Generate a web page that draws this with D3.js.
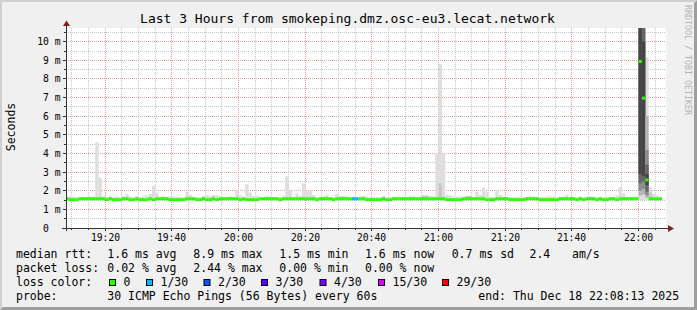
<!DOCTYPE html>
<html>
<head>
<meta charset="utf-8">
<script src="https://cdn.jsdelivr.net/npm/d3@7"></script>
<style>
html, body { margin: 0; padding: 0; background: #fff; }
svg { display: block; }
text { font-family: "DejaVu Sans Mono", monospace; fill: #000; white-space: pre; }
</style>
</head>
<body>
<svg id="chart"></svg>
<script>
const WIDTH = 697;
const HEIGHT = 310;
const PLOT = { left: 66, right: 666, top: 28, bottom: 228 };

const title = "Last 3 Hours from smokeping.dmz.osc-eu3.lecat.network";
const startTime = new Date(2025, 11, 18, 19, 8, 13);
const endTime = new Date(2025, 11, 18, 22, 8, 13);
const firstSlot = new Date(2025, 11, 18, 19, 8, 0); // one slot per minute

// median rtt (ms) per minute, 19:08 .. 22:06
const medianRtt = [
  1.57, 1.52, 1.52, 1.52, 1.57, 1.57, 1.57, 1.57, 1.57, 1.57, 1.57, 1.57, 1.52, 1.57, 1.52, 1.52, 1.52, 1.57, 1.57, 1.52,
  1.52, 1.57, 1.52, 1.52, 1.52, 1.57, 1.52, 1.57, 1.57, 1.57, 1.57, 1.52, 1.52, 1.52, 1.52, 1.52, 1.57, 1.57, 1.57, 1.52,
  1.52, 1.57, 1.52, 1.52, 1.57, 1.52, 1.57, 1.57, 1.57, 1.57, 1.57, 1.57, 1.52, 1.57, 1.52, 1.52, 1.52, 1.52, 1.57, 1.57,
  1.57, 1.57, 1.57, 1.57, 1.52, 1.57, 1.57, 1.57, 1.57, 1.57, 1.57, 1.57, 1.57, 1.57, 1.57, 1.52, 1.57, 1.57, 1.57, 1.57,
  1.52, 1.57, 1.57, 1.57, 1.57, 1.57, 1.57, 1.57, 1.57, 1.57, 1.52, 1.52, 1.52, 1.52, 1.52, 1.57, 1.52, 1.52, 1.57, 1.57,
  1.57, 1.57, 1.57, 1.57, 1.57, 1.57, 1.57, 1.57, 1.57, 1.57, 1.57, 1.57, 1.57, 1.57, 1.52, 1.52, 1.52, 1.52, 1.52, 1.57,
  1.57, 1.57, 1.57, 1.57, 1.57, 1.57, 1.52, 1.52, 1.52, 1.57, 1.57, 1.57, 1.57, 1.52, 1.52, 1.52, 1.52, 1.52, 1.57, 1.57,
  1.57, 1.57, 1.52, 1.52, 1.52, 1.52, 1.52, 1.52, 1.57, 1.57, 1.57, 1.57, 1.57, 1.52, 1.57, 1.52, 1.57, 1.57, 1.57, 1.52,
  1.57, 1.52, 1.52, 1.57, 1.57, 1.52, 1.57, 1.57, 1.57, 1.57, 1.57, 1.57, 8.94, 6.97, 2.58, 1.57, 1.57, 1.57, 1.57
];

// highest ping (ms) per minute - outer smoke
const smokeMax = [
  1.66, 1.72, 1.68, 1.66, 1.66, 1.68, 1.66, 1.68, 1.66, 4.6, 2.7, 1.68, 1.66, 1.7, 1.66, 1.7, 1.66, 1.7, 1.83, 1.7,
  1.66, 1.7, 1.66, 1.72, 1.75, 1.83, 2.27, 1.9, 1.66, 1.7, 1.66, 1.7, 1.7, 1.66, 1.66, 1.66, 1.95, 1.78, 1.66, 1.68,
  1.66, 1.72, 1.77, 1.72, 1.77, 1.77, 1.7, 1.66, 1.66, 1.7, 1.66, 2.05, 1.75, 1.66, 2.35, 1.9, 1.72, 1.72, 1.66, 1.66,
  1.72, 1.7, 1.66, 1.66, 1.66, 1.7, 2.78, 2.05, 1.66, 1.85, 1.72, 2.4, 2.0, 2.0, 1.77, 1.66, 1.66, 1.7, 1.77, 1.66,
  1.66, 1.83, 1.72, 1.72, 1.7, 1.66, 1.66, 1.66, 1.68, 1.72, 1.7, 1.66, 1.66, 1.66, 1.66, 1.73, 1.68, 1.66, 1.66, 1.66,
  1.66, 1.68, 1.66, 1.7, 1.7, 1.66, 1.68, 1.77, 1.77, 1.72, 1.68, 4.0, 8.8, 4.0, 1.77, 1.75, 1.68, 1.7, 1.7, 1.66,
  1.7, 1.72, 1.66, 1.95, 1.78, 2.17, 1.95, 1.68, 1.66, 2.04, 1.78, 1.66, 1.66, 1.66, 1.66, 1.66, 1.66, 1.66, 1.66, 1.66,
  1.66, 1.66, 1.66, 1.66, 1.7, 1.7, 1.7, 1.66, 1.66, 1.66, 1.78, 1.66, 1.66, 1.66, 1.7, 1.66, 1.66, 1.7, 1.68, 1.66,
  1.66, 1.66, 1.68, 1.66, 1.66, 1.75, 2.22, 1.85, 1.68, 1.66, 1.66, 1.68, 30, 26, 9.15, 2.2, 1.85, 1.75, 1.68
];
const smokeFloor = 1.5;

// minutes where the inner pings spread a bit
const innerSlots = [107, 108, 112, 120, 121, 175];
const innerMax = [1.72, 1.72, 2.4, 1.72, 1.72, 1.9];

// ping quantiles (0%, 10% .. 100%) for the 22:00 burst
const burstSlots = [172, 173, 174];
const burstPings = [
  [1.6, 1.75, 2.0, 2.4, 2.9, 8.94, 12, 15, 18, 22, 30],
  [1.6, 1.8, 2.1, 2.5, 2.8, 6.97, 10, 13, 16, 20, 26],
  [1.55, 1.62, 1.75, 1.95, 2.3, 2.58, 2.9, 3.4, 4.2, 6.0, 9.15]
];
const smokeShades = ["#dedede", "#b4b4b4", "#8c8c8c", "#666666", "#454545"];

// lost pings per minute (out of 30)
const lossSlots = [86, 87];
const lossCount = [1, 1];

const lossLabels = ["0", "1/30", "2/30", "3/30", "4/30", "15/30", "29/30"];
const lossSteps = [0, 1, 2, 3, 4, 15, 29];
const lossColors = ["#26ff00", "#00b8ff", "#0059ff", "#5e00ff", "#7e00ff", "#dd00ff", "#ff0000"];

const yTickValues = [0, 1, 2, 3, 4, 5, 6, 7, 8, 9, 10];
const yTickLabels = ["0  ", "1 m", "2 m", "3 m", "4 m", "5 m", "6 m", "7 m", "8 m", "9 m", "10 m"];
const xTickLabels = ["19:20", "19:40", "20:00", "20:20", "20:40", "21:00", "21:20", "21:40", "22:00"];

const rttLegend = ["median rtt:", "1.6 ms avg", "8.9 ms max", "1.5 ms min", "1.6 ms now", "0.7 ms sd", "2.4", "am/s"];
const lossLegend = ["packet loss:", "0.02 % avg", "2.44 % max", "0.00 % min", "0.00 % now"];
const probeText = "30 ICMP Echo Pings (56 Bytes) every 60s";
const endText = "end: Thu Dec 18 22:08:13 2025";

const svg = d3.select("#chart").attr("width", WIDTH).attr("height", HEIGHT);

// frame
svg.append("rect").attr("width", WIDTH).attr("height", HEIGHT).attr("fill", "#f0f0f0");
svg.append("path").attr("d", "M0,0H697L695,2H2V308L0,310Z").attr("fill", "#cfcfcf");
svg.append("path").attr("d", "M697,0V310H0L3,307H694V3Z").attr("fill", "#9e9e9e");

const x = d3.scaleTime().domain([startTime, endTime]).range([PLOT.left, PLOT.right]);
const y = d3.scaleLinear().domain([0, 10.735]).range([PLOT.bottom, PLOT.top]);

svg.append("rect")
  .attr("x", PLOT.left).attr("y", PLOT.top)
  .attr("width", PLOT.right - PLOT.left).attr("height", PLOT.bottom - PLOT.top)
  .attr("fill", "#ffffff");

svg.append("clipPath").attr("id", "plotClip")
  .append("rect")
  .attr("x", PLOT.left + 1).attr("y", PLOT.top)
  .attr("width", PLOT.right - PLOT.left - 1).attr("height", PLOT.bottom - PLOT.top);

const crisp = v => Math.floor(v) + 0.5;

// grid
const gridGroup = svg.append("g");
const minorTimes = d3.timeMinute.every(5).range(startTime, endTime);
gridGroup.selectAll("line.vgrid")
  .data(minorTimes)
  .enter().append("line")
  .attr("x1", d => crisp(x(d))).attr("x2", d => crisp(x(d)))
  .attr("y1", PLOT.top).attr("y2", PLOT.bottom)
  .attr("stroke", d => d.getMinutes() % 20 === 0 ? "#eb9c9c" : "#c6c6c6")
  .attr("stroke-dasharray", "1,1");
const yMinor = d3.range(1, 22).map(k => k / 2);
gridGroup.selectAll("line.hgrid")
  .data(yMinor)
  .enter().append("line")
  .attr("x1", PLOT.left).attr("x2", PLOT.right)
  .attr("y1", d => crisp(y(d))).attr("y2", d => crisp(y(d)))
  .attr("stroke", d => Number.isInteger(d) ? "#eb9c9c" : "#c6c6c6")
  .attr("stroke-dasharray", "1,1");

// data
const dataGroup = svg.append("g").attr("clip-path", "url(#plotClip)");
const slotStart = i => d3.timeMinute.offset(firstSlot, i);
const slotX = i => x(slotStart(i));
const slotW = i => x(slotStart(i + 1)) - x(slotStart(i));

dataGroup.selectAll("rect.smoke")
  .data(smokeMax)
  .enter().append("rect")
  .attr("x", (d, i) => slotX(i)).attr("width", (d, i) => slotW(i))
  .attr("y", d => y(d)).attr("height", d => y(smokeFloor) - y(d))
  .attr("fill", smokeShades[0]);

dataGroup.selectAll("rect.inner")
  .data(innerSlots)
  .enter().append("rect")
  .attr("x", d => slotX(d)).attr("width", d => slotW(d))
  .attr("y", (d, k) => y(innerMax[k])).attr("height", (d, k) => y(smokeFloor) - y(innerMax[k]))
  .attr("fill", "#c8c8c8");

burstSlots.forEach((slot, k) => {
  const q = burstPings[k];
  const layers = d3.range(1, 5).map(j => ({ lo: q[j], hi: q[q.length - 1 - j], shade: smokeShades[j] }));
  dataGroup.selectAll(null)
    .data(layers)
    .enter().append("rect")
    .attr("x", slotX(slot)).attr("width", slotW(slot))
    .attr("y", d => y(d.hi)).attr("height", d => y(d.lo) - y(d.hi))
    .attr("fill", d => d.shade);
});

const lossOf = i => {
  const k = lossSlots.indexOf(i);
  return k < 0 ? 0 : lossCount[k];
};
const lossColor = n => {
  let c = lossColors[0];
  lossSteps.forEach((s, k) => { if (n >= s) c = lossColors[k]; });
  return c;
};
dataGroup.selectAll("rect.median")
  .data(medianRtt)
  .enter().append("rect")
  .attr("x", (d, i) => slotX(i)).attr("width", (d, i) => slotW(i))
  .attr("y", d => y(d) - 1.5).attr("height", 3)
  .attr("fill", (d, i) => lossColor(lossOf(i)));

// axes
const axisColor = "#333333";
const arrowColor = "#7f1f1f";
const xAxis = svg.append("g").attr("transform", `translate(0,${PLOT.bottom})`);
xAxis.selectAll("line.minor")
  .data(minorTimes)
  .enter().append("line")
  .attr("x1", d => crisp(x(d))).attr("x2", d => crisp(x(d)))
  .attr("y1", 0).attr("y2", d => d.getMinutes() % 20 === 0 ? 3 : 2)
  .attr("stroke", axisColor);
const parseHM = d3.timeParse("%H:%M");
const majorTimes = xTickLabels.map(s => {
  const t = parseHM(s);
  return new Date(2025, 11, 18, t.getHours(), t.getMinutes());
});
xAxis.selectAll("text")
  .data(majorTimes)
  .enter().append("text")
  .attr("x", d => crisp(x(d))).attr("y", 13)
  .attr("text-anchor", "middle")
  .attr("font-size", "9.7px")
  .text((d, i) => xTickLabels[i]);
xAxis.append("line")
  .attr("x1", 62).attr("x2", 668).attr("y1", 0.5).attr("y2", 0.5)
  .attr("stroke", axisColor);
xAxis.append("path").attr("d", "M668,-3L674,0.5L668,4Z").attr("fill", arrowColor);

const yAxis = svg.append("g").attr("transform", `translate(${PLOT.left},0)`);
yAxis.selectAll("line.tick")
  .data(yMinor)
  .enter().append("line")
  .attr("x1", d => Number.isInteger(d) ? -3 : -2).attr("x2", 0)
  .attr("y1", d => crisp(y(d))).attr("y2", d => crisp(y(d)))
  .attr("stroke", axisColor);
yAxis.selectAll("text")
  .data(yTickValues)
  .enter().append("text")
  .attr("x", -5.5).attr("y", d => crisp(y(d)))
  .attr("dy", "0.36em")
  .attr("text-anchor", "end")
  .attr("font-size", "9.7px")
  .text((d, i) => yTickLabels[i]);
yAxis.append("line")
  .attr("x1", 0.5).attr("x2", 0.5).attr("y1", 231).attr("y2", 26)
  .attr("stroke", axisColor);
yAxis.append("path").attr("d", "M-3,26L0.5,20.5L4,26Z").attr("fill", arrowColor);

// titles
svg.append("text")
  .attr("x", 347.5).attr("y", 23)
  .attr("text-anchor", "middle")
  .attr("font-size", "13px")
  .text(title);
svg.append("text")
  .attr("transform", "translate(15,127) rotate(-90)")
  .attr("text-anchor", "middle")
  .attr("font-size", "11.5px")
  .text("Seconds");
svg.append("text")
  .attr("transform", "translate(685,5) rotate(90)")
  .attr("font-size", "8.3px")
  .style("fill", "#b4b4b4")
  .text("RRDTOOL / TOBI OETIKER");

// legend
const legend = svg.append("g").attr("font-size", "11.5px");
const rttX = [16, 107.3, 193.3, 279.3, 365, 451.7, 529.5, 572];
legend.selectAll("text.rtt")
  .data(rttLegend)
  .enter().append("text")
  .attr("x", (d, i) => rttX[i]).attr("y", 257.5)
  .text(d => d);
legend.selectAll("text.loss")
  .data(lossLegend)
  .enter().append("text")
  .attr("x", (d, i) => rttX[i]).attr("y", 271.5)
  .text(d => d);
legend.append("text").attr("x", 16).attr("y", 285.5).text("loss color:");
const boxX = [109, 146, 203.5, 261, 319.5, 378, 442];
legend.selectAll("rect.lossbox")
  .data(lossColors)
  .enter().append("rect")
  .attr("x", (d, i) => boxX[i] + 0.5).attr("y", 279.5)
  .attr("width", 6).attr("height", 6)
  .attr("fill", d => d)
  .attr("stroke", "#000").attr("stroke-width", 1);
legend.selectAll("text.losslabel")
  .data(lossLabels)
  .enter().append("text")
  .attr("x", (d, i) => boxX[i] + 14.5).attr("y", 285.5)
  .text(d => d);
legend.append("text").attr("x", 16).attr("y", 299.5).text("probe:");
legend.append("text").attr("x", 107.3).attr("y", 299.5).text(probeText);
legend.append("text").attr("x", 478.3).attr("y", 299.5).text(endText);
</script>
</body>
</html>
